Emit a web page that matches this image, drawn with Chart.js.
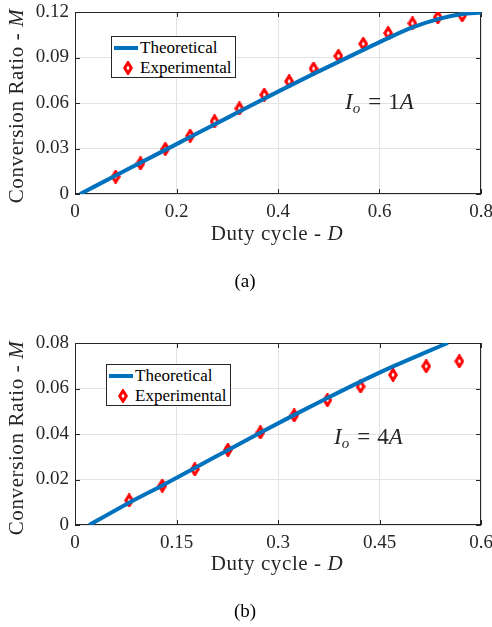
<!DOCTYPE html>
<html>
<head>
<meta charset="utf-8">
<script src="https://cdn.jsdelivr.net/npm/chart.js@4"></script>
<style>
  html, body { margin: 0; padding: 0; background: #fff; }
  #page { position: relative; width: 492px; height: 627px; font-family: "Liberation Serif", "Times New Roman", serif; color: #262626; }
  canvas { position: absolute; left: 0; }
  .txt { position: absolute; white-space: nowrap; line-height: 1; }
  .ytitle { transform: translate(-50%, -50%) rotate(-90deg); font-size: 21px; letter-spacing: 0.6px; }
  .xtitle { transform: translate(-50%, -50%); font-size: 21px; letter-spacing: 0.6px; }
  .cap { transform: translate(-50%, -50%); font-size: 19px; color: #000; }
  .note { transform: translateY(-50%); font-size: 23px; }
  .note sub { font-size: 15px; vertical-align: -4px; }
  .note .eq { margin: 0 7px 0 8px; }
  .legend { position: absolute; background: #fff; border: 1px solid #262626; box-sizing: border-box; font-size: 17px; color: #000; }
  .legend .row { position: absolute; left: 0; right: 0; height: 20px; }
  .legend .lbl { position: absolute; top: 0; line-height: 20px; }
</style>
</head>
<body>
<div id="page">
  <canvas id="chartA" width="492" height="240" style="top:0"></canvas>
  <canvas id="chartB" width="492" height="240" style="top:331px"></canvas>
</div>
<script>
// (a) Io = 1A
const dutyTheoryA = [0.010, 0.100, 0.200, 0.300, 0.400, 0.470, 0.519, 0.568, 0.617, 0.665, 0.715, 0.763, 0.800];
const ratioTheoryA = [0, 0.0156, 0.0329, 0.0502, 0.0675, 0.0792, 0.0871, 0.0950, 0.1028, 0.1098, 0.1153, 0.1187, 0.1196];
const dutyExpA = [0.080, 0.129, 0.178, 0.227, 0.275, 0.324, 0.373, 0.422, 0.470, 0.519, 0.568, 0.617, 0.665, 0.715, 0.763];
const ratioExpA = [0.0114, 0.0202, 0.0297, 0.0384, 0.0479, 0.0564, 0.0654, 0.0743, 0.0827, 0.0910, 0.0990, 0.1061, 0.1125, 0.1165, 0.1178];

// (b) Io = 4A
const dutyTheoryB = [0.021, 0.080, 0.129, 0.177, 0.227, 0.275, 0.324, 0.373, 0.422, 0.470, 0.519, 0.551];
const ratioTheoryB = [0, 0.0098, 0.0174, 0.0251, 0.0331, 0.0408, 0.0484, 0.0558, 0.0630, 0.0697, 0.0760, 0.0800];
const dutyExpB = [0.080, 0.129, 0.177, 0.226, 0.274, 0.324, 0.373, 0.422, 0.470, 0.519, 0.568];
const ratioExpB = [0.0108, 0.0173, 0.0245, 0.0330, 0.0407, 0.0482, 0.0549, 0.0609, 0.0660, 0.0698, 0.0720];

const ticksA = { xMax: 0.8, xStep: 0.2, yMax: 0.12, yStep: 0.03 };
const ticksB = { xMax: 0.6, xStep: 0.15, yMax: 0.08, yStep: 0.02 };

const BLUE = "#0072BD";
const RED = "#ff0000";
const AXIS = "#262626";
const FONT = "'Liberation Serif', 'Times New Roman', serif";

// tall red diamond like matlab 'rd'
function diamond() {
  const c = document.createElement("canvas");
  c.width = 10; c.height = 14;
  const g = c.getContext("2d");
  g.beginPath();
  g.moveTo(5, 1.7); g.lineTo(8.3, 7); g.lineTo(5, 12.3); g.lineTo(1.7, 7); g.closePath();
  g.fillStyle = "#fff"; g.fill();
  g.lineWidth = 3; g.strokeStyle = RED; g.stroke();
  return c;
}
const marker = diamond();

// box round the plot + inward ticks on all four sides
const boxPlugin = {
  id: "matlabBox",
  beforeDatasetsDraw(chart) {
    const { ctx, chartArea: a, scales } = chart;
    ctx.save();
    ctx.strokeStyle = AXIS;
    ctx.lineWidth = 1;
    ctx.strokeRect(a.left + 0.5, a.top + 0.5, a.right - a.left - 1, a.bottom - a.top - 1);
    ctx.beginPath();
    scales.x.ticks.forEach((t) => {
      const p = Math.round(scales.x.getPixelForValue(t.value)) + 0.5;
      ctx.moveTo(p, a.bottom); ctx.lineTo(p, a.bottom - 5);
      ctx.moveTo(p, a.top); ctx.lineTo(p, a.top + 5);
    });
    scales.y.ticks.forEach((t) => {
      const p = Math.round(scales.y.getPixelForValue(t.value)) + 0.5;
      ctx.moveTo(a.left, p); ctx.lineTo(a.left + 5, p);
      ctx.moveTo(a.right, p); ctx.lineTo(a.right - 5, p);
    });
    ctx.stroke();
    ctx.restore();
  },
};

function fmt(v) {
  return v === 0 ? "0" : String(+v.toFixed(2));
}

function makeChart(id, th, thY, ex, exY, t) {
  return new Chart(document.getElementById(id), {
    type: "line",
    data: {
      datasets: [
        {
          label: "Theoretical",
          data: th.map((x, i) => ({ x, y: thY[i] })),
          borderColor: BLUE,
          borderWidth: 4,
          pointRadius: 0,
          cubicInterpolationMode: "monotone",
          fill: false,
        },
        {
          label: "Experimental",
          data: ex.map((x, i) => ({ x, y: exY[i] })),
          showLine: false,
          pointStyle: marker,
          pointRadius: 6,
        },
      ],
    },
    options: {
      responsive: false,
      animation: false,
      devicePixelRatio: 1,
      layout: { padding: { left: 0, right: 11, top: 12, bottom: 0 } },
      plugins: { legend: { display: false }, tooltip: { enabled: false } },
      scales: {
        x: {
          type: "linear",
          min: 0,
          max: t.xMax,
          afterFit: (s) => { s.height = 46; s.paddingLeft = 0; s.paddingRight = 0; },
          ticks: { stepSize: t.xStep, color: AXIS, font: { family: FONT, size: 19 }, padding: 7, maxRotation: 0, callback: fmt },
          grid: { color: "#e3e3e3", drawTicks: false },
          border: { display: false },
        },
        y: {
          min: 0,
          max: t.yMax,
          afterFit: (s) => { s.width = 75; s.paddingTop = 0; s.paddingBottom = 0; },
          ticks: { stepSize: t.yStep, color: AXIS, font: { family: FONT, size: 19 }, padding: 6, callback: fmt },
          grid: { color: "#e3e3e3", drawTicks: false },
          border: { display: false },
        },
      },
    },
    plugins: [boxPlugin],
  });
}

function addText(cls, html, left, top) {
  const el = document.createElement("div");
  el.className = "txt " + cls;
  el.innerHTML = html;
  el.style.left = left + "px";
  el.style.top = top + "px";
  document.getElementById("page").appendChild(el);
}

function addLegend(left, top) {
  const box = document.createElement("div");
  box.className = "legend";
  box.style.left = left + "px";
  box.style.top = top + "px";
  box.style.width = "125px";
  box.style.height = "42px";
  box.innerHTML = `
    <div class="row" style="top:1px">
      <div style="position:absolute;left:2px;top:8px;width:24px;height:4px;background:${BLUE}"></div>
      <div class="lbl" style="left:28px">Theoretical</div>
    </div>
    <div class="row" style="top:21px">
      <canvas width="10" height="14" style="position:absolute;left:11px;top:3px"></canvas>
      <div class="lbl" style="left:28px">Experimental</div>
    </div>`;
  box.querySelector("canvas").getContext("2d").drawImage(marker, 0, 0);
  document.getElementById("page").appendChild(box);
}

makeChart("chartA", dutyTheoryA, ratioTheoryA, dutyExpA, ratioExpA, ticksA);
makeChart("chartB", dutyTheoryB, ratioTheoryB, dutyExpB, ratioExpB, ticksB);

addText("ytitle", "Conversion Ratio - <i>M</i>", 16, 106);
addText("xtitle", "Duty cycle - <i>D</i>", 277, 233);
addText("note", "<i>I<sub>o</sub></i><span class='eq'>=</span>1<i>A</i>", 345, 103);
addText("cap", "(a)", 245, 280);
addLegend(111, 36);

addText("ytitle", "Conversion Ratio - <i>M</i>", 16, 438);
addText("xtitle", "Duty cycle - <i>D</i>", 277, 563);
addText("note", "<i>I<sub>o</sub></i><span class='eq'>=</span>4<i>A</i>", 334, 438);
addText("cap", "(b)", 245, 610);
addLegend(106, 364);
</script>
</body>
</html>
